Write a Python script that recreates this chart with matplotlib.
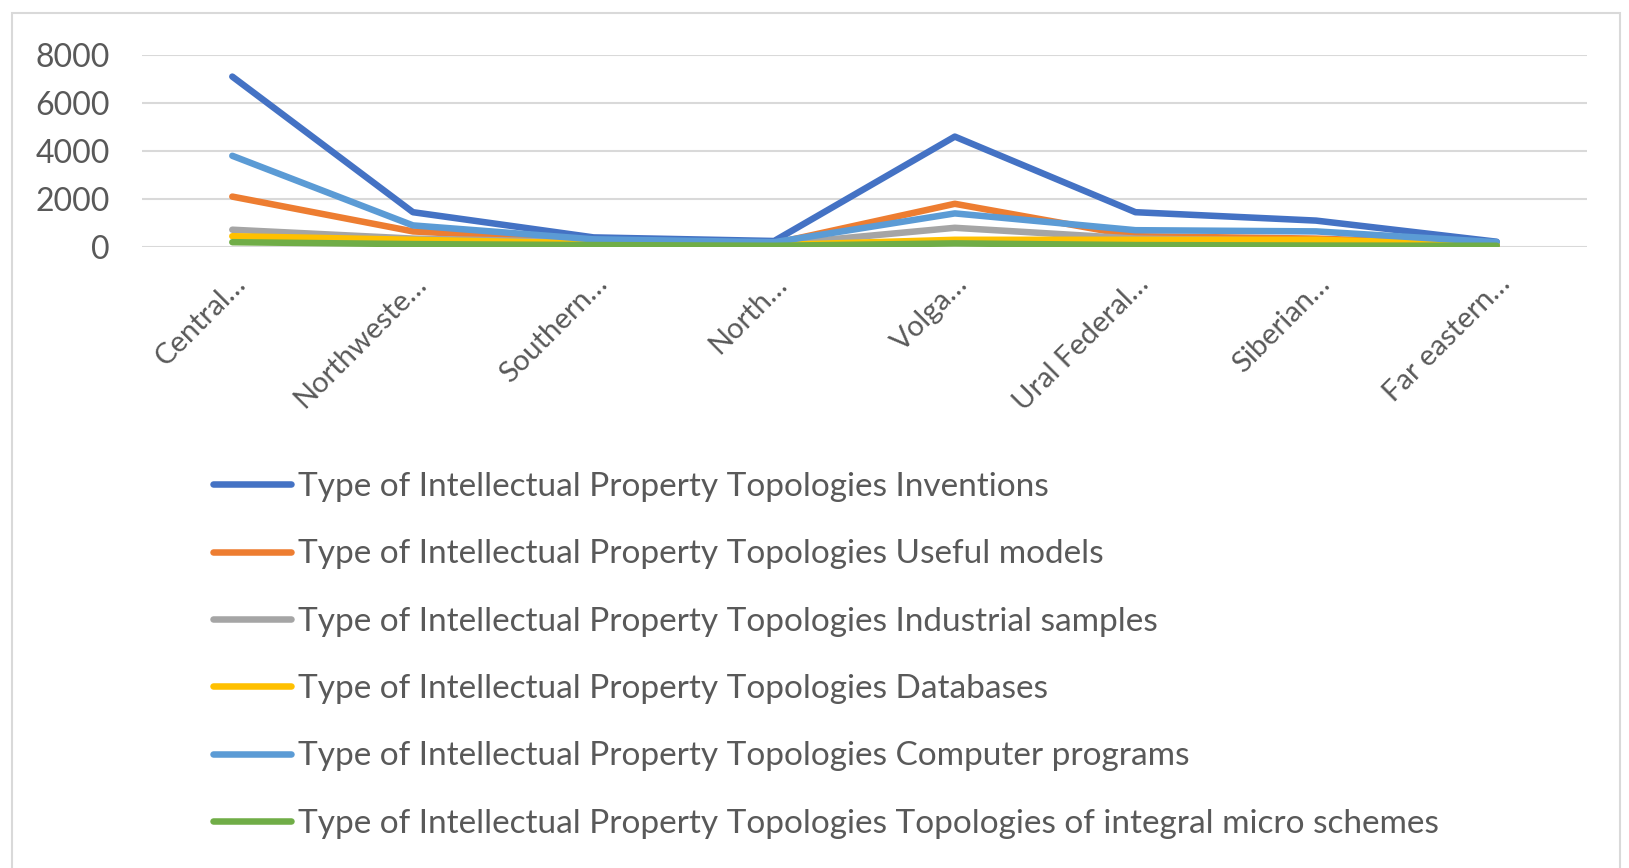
import matplotlib.pyplot as plt
from matplotlib.patches import Rectangle

plt.rcParams['font.family'] = ['Lato', 'DejaVu Sans']

regions = ["Central…", "Northweste…", "Southern…", "North…",
           "Volga…", "Ural Federal…", "Siberian…", "Far eastern…"]

prefix = "Type of Intellectual Property Topologies "
series_names = ["Inventions", "Useful models", "Industrial samples",
                "Databases", "Computer programs",
                "Topologies of integral micro schemes"]

inventions = [7100, 1450, 400, 250, 4600, 1450, 1100, 220]
useful_models = [2100, 650, 250, 150, 1800, 450, 350, 100]
industrial_samples = [720, 350, 200, 100, 800, 350, 250, 80]
databases = [450, 300, 150, 80, 300, 300, 300, 100]
computer_programs = [3800, 900, 320, 200, 1400, 700, 650, 200]
micro_schemes = [200, 120, 80, 50, 150, 80, 60, 50]

colors = ["#4472C4", "#ED7D31", "#A5A5A5", "#FFC000", "#5B9BD5", "#70AD47"]
values = [inventions, useful_models, industrial_samples,
          databases, computer_programs, micro_schemes]

W, H = 1629, 868
fig = plt.figure(figsize=(W / 100, H / 100), dpi=100)

# chart frame
fig.patches.append(Rectangle((12 / W, -0.05), (1620 - 12) / W, 1 - 13 / H + 0.05,
                             transform=fig.transFigure, fill=False,
                             edgecolor="#D9D9D9", linewidth=1.5))

ax = fig.add_axes([142 / W, 1 - 247 / H, (1587 - 142) / W, (247 - 55) / H])

x = list(range(len(regions)))
handles = []
for name, vals, c in zip(series_names, values, colors):
    h, = ax.plot(x, vals, color=c, linewidth=4.7, solid_capstyle="round",
                 solid_joinstyle="round", label=prefix + name)
    handles.append(h)

ax.set_xlim(-0.5, len(regions) - 0.5)
ax.set_ylim(0, 8000)
ax.set_yticks([0, 2000, 4000, 6000, 8000])
ax.grid(axis="y", color="#D9D9D9", linewidth=1.5)
ax.set_axisbelow(True)
for s in ax.spines.values():
    s.set_visible(False)
ax.tick_params(axis="both", length=0, colors="#595959")
ax.tick_params(axis="y", labelsize=23, pad=23)

ax.set_xticks(x)
ax.set_xticklabels(regions, rotation=45, ha="right", rotation_mode="anchor",
                   va="top")
ax.tick_params(axis="x", labelsize=21, pad=17)

fig.legend(handles, [h.get_label() for h in handles], loc="upper left",
           bbox_to_anchor=(213 / W, 1 - 472 / H), frameon=False,
           fontsize=24, handlelength=2.35, handletextpad=0.2,
           labelspacing=1.12, borderpad=0, borderaxespad=0,
           labelcolor="#595959")

fig.savefig("out.png", dpi=100)
